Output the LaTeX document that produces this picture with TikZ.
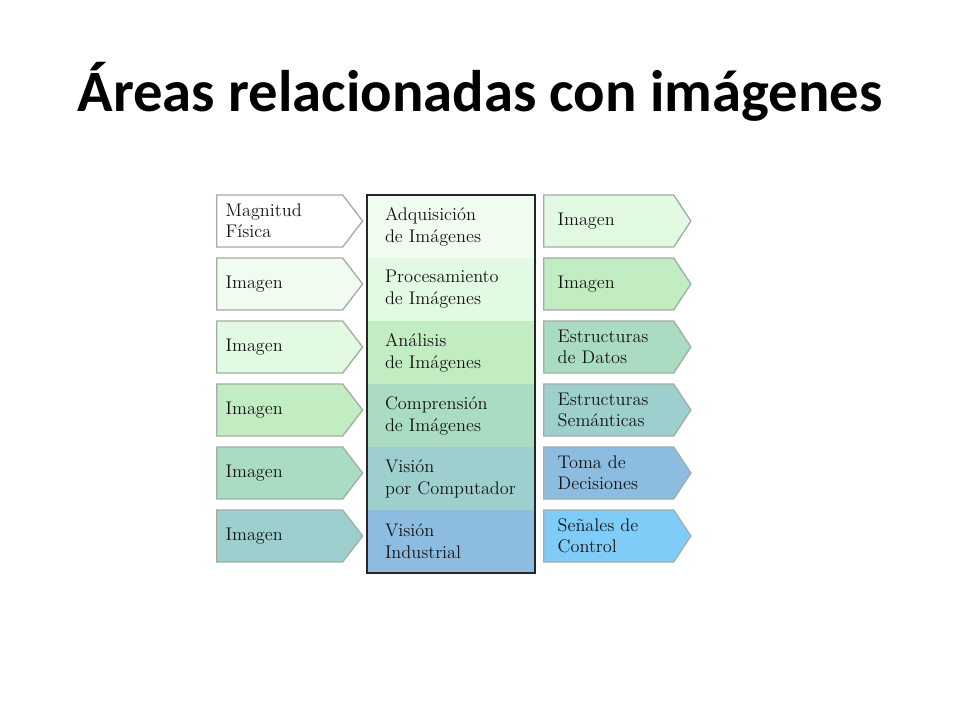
\documentclass[tikz,border=0pt]{standalone}
\usepackage{fontspec}
\newfontfamily\titlefont{Carlito}
\usetikzlibrary{positioning, shapes.symbols}

\definecolor{tone0}{HTML}{FFFFFF}
\definecolor{tone1}{HTML}{F0FCF0}
\definecolor{tone2}{HTML}{E2F9E2}
\definecolor{tone3}{HTML}{C2EDC2}
\definecolor{tone4}{HTML}{AADCC2}
\definecolor{tone5}{HTML}{9DCFCF}
\definecolor{tone6}{HTML}{8CBDE0}
\definecolor{tone7}{HTML}{80CCF8}
\definecolor{rim}{HTML}{A4ACA4}

\tikzset{
  boxtext/.style={font=\fontsize{13.7}{15.5}\selectfont, align=left, text=black!92},
  inarrow/.style={boxtext, signal, signal to=east, signal pointer angle=105,
    draw=rim, line width=1pt, minimum height=39pt, text width=81pt,
    inner xsep=6.75pt, anchor=west},
  outarrow/.style={inarrow, signal pointer angle=113, text width=76.5pt,
    inner xsep=10.5pt},
  area/.style={boxtext, font=\fontsize{13.7}{16.5}\selectfont, rectangle,
    minimum width=126pt, minimum height=47.25pt, text width=99pt,
    inner xsep=13.5pt, inner ysep=0pt, outer sep=0pt, anchor=north west}
}

\begin{document}
\begin{tikzpicture}[x=0.75pt, y=-0.75pt, node distance=7.25pt]
    \fill[white] (0,0) rectangle (960,720);
    \useasboundingbox (0,0) rectangle (960,720);

    \node[font=\titlefont\bfseries\fontsize{44}{50}\selectfont, anchor=base] (title) at (480,112) {Áreas relacionadas con imágenes};

    % central column
    \node[area, fill=tone1] (adq) at (367,195) {Adquisición\\de Imágenes};
    \node[area, fill=tone2, below=0pt of adq] (proc) {Procesamiento\\de Imágenes};
    \node[area, fill=tone3, below=0pt of proc] (anal) {Análisis\\de Imágenes};
    \node[area, fill=tone4, below=0pt of anal] (compr) {Comprensión\\de Imágenes};
    \node[area, fill=tone5, below=0pt of compr] (vision) {Visión\\por Computador};
    \node[area, fill=tone6, below=0pt of vision] (indus) {Visión\\Industrial};
    \draw[line width=1.1pt, black!85] (adq.north west) rectangle (indus.south east);

    % inputs
    \node[inarrow, fill=tone0] (in1) at (216,221) {Magnitud\\Física};
    \node[inarrow, fill=tone1, below=of in1] (in2) {Imagen};
    \node[inarrow, fill=tone2, below=of in2] (in3) {Imagen};
    \node[inarrow, fill=tone3, below=of in3] (in4) {Imagen};
    \node[inarrow, fill=tone4, below=of in4] (in5) {Imagen};
    \node[inarrow, fill=tone5, below=of in5] (in6) {Imagen};

    % outputs
    \node[outarrow, fill=tone2] (out1) at (543,221) {Imagen};
    \node[outarrow, fill=tone3, below=of out1] (out2) {Imagen};
    \node[outarrow, fill=tone4, below=of out2] (out3) {Estructuras\\de Datos};
    \node[outarrow, fill=tone5, below=of out3] (out4) {Estructuras\\Semánticas};
    \node[outarrow, fill=tone6, below=of out4] (out5) {Toma de\\Decisiones};
    \node[outarrow, fill=tone7, below=of out5] (out6) {Señales de\\Control};
\end{tikzpicture}
\end{document}
